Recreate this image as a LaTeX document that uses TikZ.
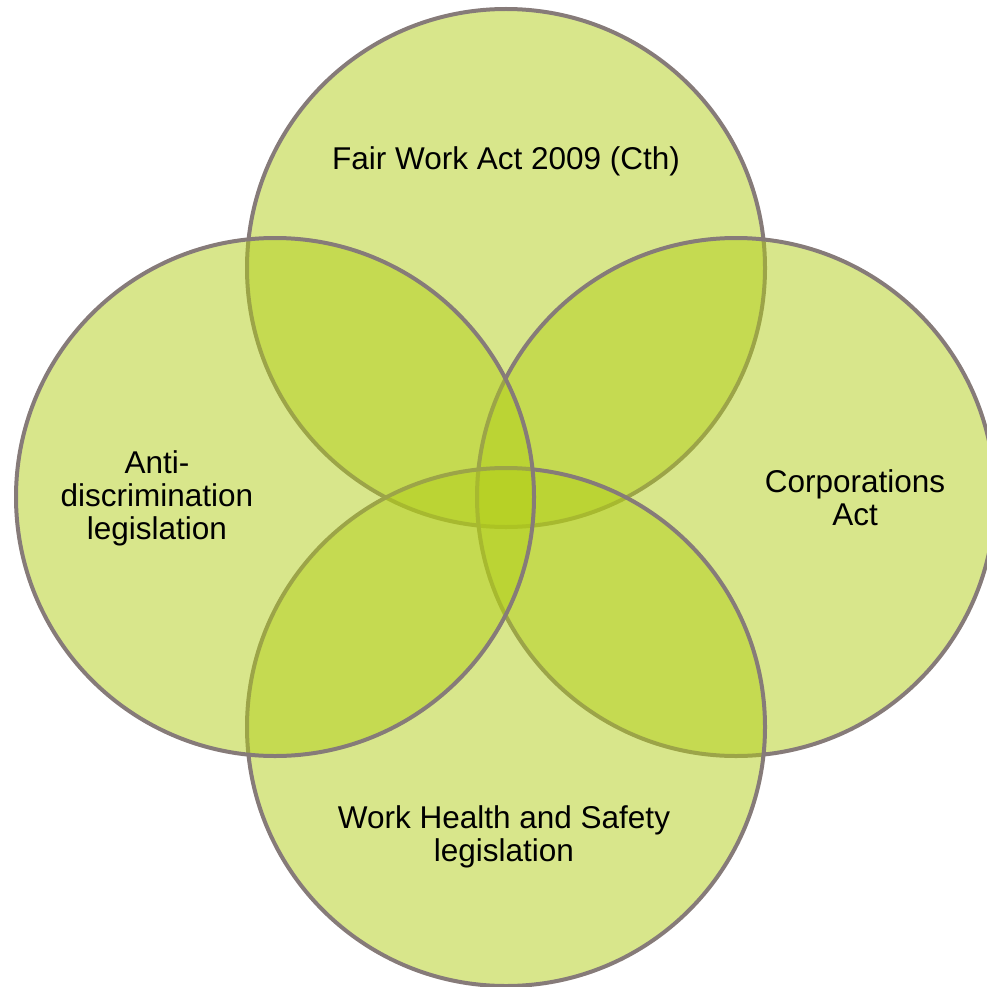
\documentclass[tikz,border=0pt]{standalone}
\usepackage{fontspec}
\setmainfont{Liberation Sans}
\definecolor{setfill}{RGB}{178,206,24}
\definecolor{setrim}{RGB}{134,123,121}
\begin{document}
\begin{tikzpicture}[x=1pt,y=-1pt,
  setdisk/.style={circle, minimum size=518pt, inner sep=0pt, draw=setrim,
    line width=4pt, fill=setfill, fill opacity=0.5},
  setlabel/.style={font=\fontsize{31.5}{33}\selectfont, align=center, text=black}]
\useasboundingbox (0,0) rectangle (986,987);
% the four overlapping sets, drawn top, right, bottom, left
\node[setdisk] (fwa) at (506,268) {};
\node[setdisk] (corp) at (736,497) {};
\node[setdisk] (whs) at (506,727) {};
\node[setdisk] (anti) at (275,497) {};
% set names
\node[setlabel] (fwaT) at (506,161) {Fair Work Act 2009 (Cth)};
\node[setlabel] (corpT) at (855,498) {Corporations\\Act};
\node[setlabel] (whsT) at (504,837) {Work Health and Safety\\legislation};
\node[setlabel] (antiT) at (157,498) {Anti-\\discrimination\\legislation};
\end{tikzpicture}
\end{document}
